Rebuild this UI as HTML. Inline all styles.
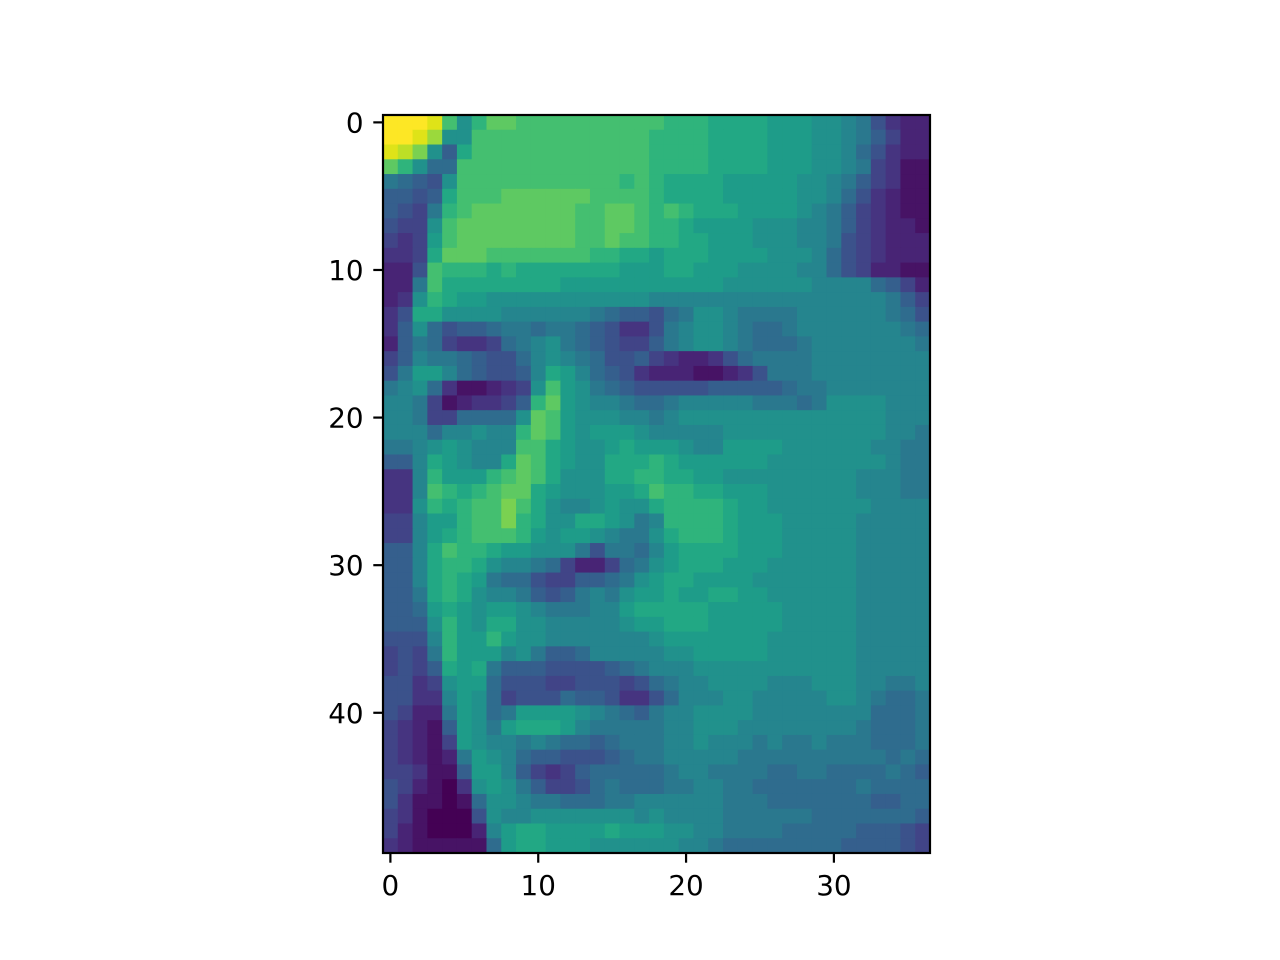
<!DOCTYPE html>
<html><head><meta charset="utf-8"><style>
html,body{margin:0;padding:0;background:#fff;}
svg{display:block;}
text{font-family:"DejaVu Sans","Liberation Sans",sans-serif;font-size:27.8px;fill:#000;}
</style></head><body>
<svg id="chart" width="1280" height="960" viewBox="0 0 1280 960" xmlns="http://www.w3.org/2000/svg">
<g id="cells"></g>
<rect x="383" y="115" width="547" height="738" fill="none" stroke="#000" stroke-width="2.2"/>
<g id="xticks"></g>
<g id="yticks"></g>
</svg>
<script>
// intensity levels: letter index / 20 (a=0 ... u=1)
const levelChars = "abcdefghijklmnopqrstu";
const pixelRows = [
"uuutoknpp"+"oooooooooo"+"nnn"+"mmmm"+"lll"+"kk"+"jifdcc",
"uutrkk"+"oooooooooooo"+"nnnn"+"mmmm"+"lll"+"kk"+"jigecc",
"tsqkgm"+"oooooooooooo"+"nnnn"+"mmmm"+"lll"+"kk"+"jhfdcc",
"pnkhho"+"oooooooooooo"+"nnnn"+"mmmm"+"lll"+"kk"+"jiedbb",
"ihgfk"+"ooooooooooo"+"non"+"mmmm"+"lllll"+"kk"+"jigedbb",
"ggfgmo"+"oopppppp"+"oooo"+"n"+"mmmm"+"lllll"+"kk"+"jhfdcbb",
"gfeino"+"ppppppp"+"oo"+"pp"+"o"+"n"+"o"+"n"+"mmm"+"llll"+"kjigedcbb",
"feekop"+"ppppppp"+"oo"+"pp"+"on"+"n"+"m"+"llll"+"kkk"+"jjigedccb",
"edelop"+"ppppppp"+"oopoon"+"n"+"mm"+"lll"+"kkk"+"jjifedccc",
"ddemppp"+"ooooooo"+"nnmml"+"mmm"+"llll"+"kkk"+"jhfedccc",
"ccfonnnmn"+"mmmmmmm"+"lll"+"mm"+"lll"+"kkkk"+"jjhfeccbb",
"cciomm"+"mmmmmm"+"lllllll"+"llll"+"kkkkkk"+"jjjjhgec",
"cdknmll"+"kkkkkkkkkkk"+"j"+"jjjjjjjjjjjjj"+"jjige",
"dfmmkkkk"+"jjjjjj"+"ihggf"+"hikkj"+"iiii"+"jjjjjj"+"ihf",
"dgkhfgghiihiihgfddf"+"ijkkjihhi"+"jjjjjjj"+"ih",
"cgiheddehijkihgfeeg"+"ijkkjihhhi"+"jjjjjjj"+"i",
"egjiihgffhjkjihffge"+"dccdfh"+"iiii"+"jjjjjjjj",
"filljhgffgjmljhgfdc"+"ccbbcdf"+"iii"+"jjjjjjjj",
"ijkhdbbcdekolkihgff"+"fffggggghii"+"jjjjjjj",
"jjiebcddegnplkjjihh"+"ijjjjjiiihikkkkjjj",
"jjieehhhhkpolkkkjji"+"j"+"kkkkkkkkkkkkkk"+"jjj",
"jjjhjjkjjnpolklllkj"+"jjjj"+"kkkkkkkkkkk"+"jji",
"iijklkjjjoomlkklmll"+"lkjjllllkkkkkkjjii",
"ggjmlkjjmpomlkkmmmn"+"m"+"llllll"+"kkkkkkkk"+"jii",
"ddjnlllnopomkkkmmnn"+"mmll"+"kkkkkkkkk"+"jjjii",
"ddjonmnoppmlkkkllmo"+"nnmm"+"lll"+"kkkkkk"+"jjjii",
"ddknmnooqomkjjklkkm"+"nnnnmll"+"kkkkkkk"+"jjjj",
"eejllnooqnmkkmmlkij"+"nnnnmlll"+"kkkkk"+"jjjjj",
"eejlmnooonlkllkjiik"+"mnnnmlll"+"kkkkk"+"jjjjj",
"ggjmonnmllkkkifiihj"+"lmmmmlll"+"kkkkk"+"jjjjj",
"ggjmnnmkjjiheccehik"+"lmmmlll"+"kkkkkk"+"jjjjj",
"ggjmnmlihhfeegghikl"+"mmllll"+"kkkkkkk"+"jjjjj",
"ggimnmkjjigfgijikll"+"mllmmll"+"kkkkkk"+"jjjjj",
"gghlmlkllkjiiijjlmm"+"mmmlllllkkkkkjjjjj",
"gggknlkmmkkjjjjjkll"+"mmmlllllkkkkkjjjjj",
"fffjnllnlkkjjjjjjjk"+"lllllll"+"kkkkkk"+"jjjjj",
"efeinllljkigghjjjjj"+"kklllll"+"kkkkkk"+"jjjjj",
"efegmlmigggffffghij"+"jj"+"kkkkkkkkkkk"+"jjjjj",
"ffdekllhfffeefffefh"+"ijjkkkkjjjkkkjjiij",
"ffddjlkhefffhggfddf"+"hjjjkkjjjjjkkjihhi",
"feccilkhillllkjihgi"+"jjkkkkjjjjjjjjhhhi",
"edcbglkilmmmljiiiii"+"jjkkkjjjjjjjjihhhi",
"edcbelkjjijihhghiii"+"jjkjjjijiijiiihhhi",
"edcbcilkjhggfffghii"+"jjjjjiiiiiiiiiihih",
"eedbbglljgedeghhhhh"+"ijjiiiihhiihhhhihg",
"fecbadklkigeefhihhh"+"iijjiihhhhhhhihhhh",
"fdbbabhkkjiihhhiijj"+"jjjjiiihhhhhhhgghh",
"edbaaafkjjkkkkkkkjk"+"jjjjiiiiiihhhhhhhg",
"ecbaaacjlmmllllmlll"+"kkjjiiiihhhhhgggfe",
"dcbbbbbhlmmlllkkkkk"+"kjjihhhhhhhhggggfe"
];
const xTickValues = [0, 10, 20, 30];
const yTickValues = [0, 10, 20, 30, 40];
const viridisStops = ["#440154","#471365","#482475","#463480","#414487","#3b528b","#355f8d","#2f6c8e","#2a788e","#25858e","#21918c","#1e9c89","#22a884","#2fb47c","#44bf70","#5ec962","#7ad151","#9bd93c","#bddf26","#dfe318","#fde725"];

const NCOL = 37, NROW = 50;
const AX = {x0:383, y0:115, w:547, h:738};
const cw = AX.w / NCOL, ch = AX.h / NROW;
const xScale = c => AX.x0 + (c + 0.5) * cw;
const yScale = r => AX.y0 + (r + 0.5) * ch;
function colorFor(v){
  v = Math.max(0, Math.min(1, v));
  const t = v * 20, i = Math.min(19, Math.floor(t)), f = t - i;
  const a = viridisStops[i], b = viridisStops[i+1];
  const p = (s,k)=>parseInt(s.substr(1+2*k,2),16);
  const ch2 = k => Math.round(p(a,k)*(1-f)+p(b,k)*f);
  return "rgb("+ch2(0)+","+ch2(1)+","+ch2(2)+")";
}
const NS = "http://www.w3.org/2000/svg";
const cells = document.getElementById("cells");
pixelRows.forEach((row, r) => {
  for (let c = 0; c < NCOL; c++) {
    const ch_ = row[Math.min(c, row.length - 1)];
    const v = Math.max(0, levelChars.indexOf(ch_)) / 20;
    const el = document.createElementNS(NS, "rect");
    
    
    el.setAttribute("x", (xScale(c) - cw/2).toFixed(2));
    el.setAttribute("y", (yScale(r) - ch/2).toFixed(2));
    el.setAttribute("width", (cw + 0.6).toFixed(2));
    el.setAttribute("height", (ch + 0.6).toFixed(2));
    el.setAttribute("fill", colorFor(v));
    cells.appendChild(el);
  }
});
const xg = document.getElementById("xticks");
xTickValues.forEach(t => {
  const x = xScale(t);
  const ln = document.createElementNS(NS, "line");
  
  
  ln.setAttribute("x1", x); ln.setAttribute("x2", x);
  ln.setAttribute("y1", 853); ln.setAttribute("y2", 862.7);
  ln.setAttribute("stroke", "#000"); ln.setAttribute("stroke-width", "2.2");
  xg.appendChild(ln);
  const tx = document.createElementNS(NS, "text");
  
  
  tx.setAttribute("x", x); tx.setAttribute("y", 895);
  tx.setAttribute("text-anchor", "middle");
  tx.textContent = t;
  xg.appendChild(tx);
});
const yg = document.getElementById("yticks");
yTickValues.forEach(t => {
  const y = yScale(t);
  const ln = document.createElementNS(NS, "line");
  
  
  ln.setAttribute("x1", 373.3); ln.setAttribute("x2", 383);
  ln.setAttribute("y1", y); ln.setAttribute("y2", y);
  ln.setAttribute("stroke", "#000"); ln.setAttribute("stroke-width", "2.2");
  yg.appendChild(ln);
  const tx = document.createElementNS(NS, "text");
  
  
  tx.setAttribute("x", 363.6); tx.setAttribute("y", y + 10);
  tx.setAttribute("text-anchor", "end");
  tx.textContent = t;
  yg.appendChild(tx);
});
</script>
</body></html>
